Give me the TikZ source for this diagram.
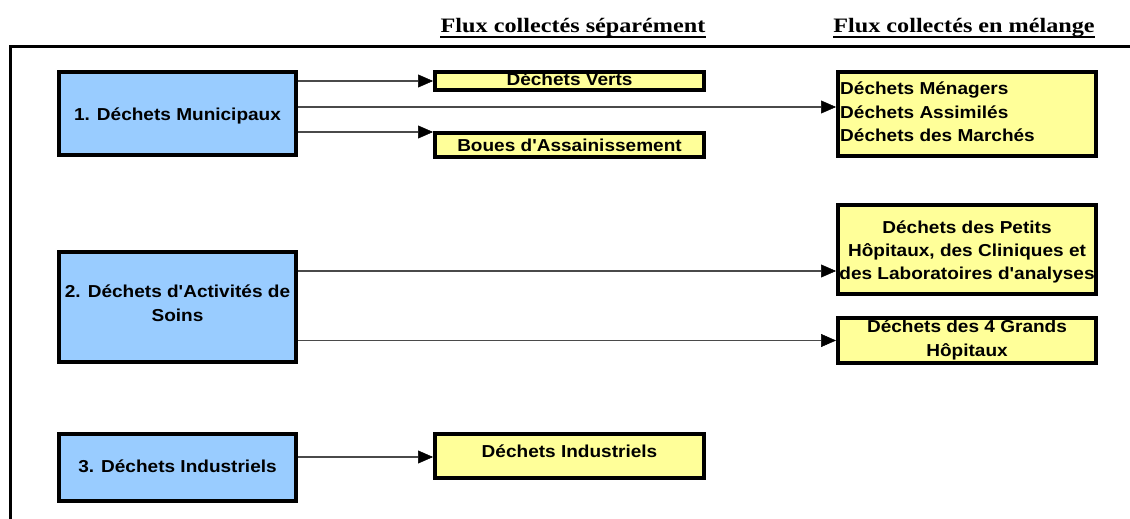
\documentclass[tikz,border=0pt]{standalone}
\usepackage{fontspec}
\usetikzlibrary{arrows.meta}
\newfontfamily\boxfont{Liberation Sans}[FakeStretch=1.1]
\newfontfamily\headfont{Liberation Serif}[FakeStretch=1.18]
\definecolor{boxblue}{HTML}{99CCFF}
\definecolor{boxyellow}{HTML}{FFFF99}
\definecolor{linegray}{HTML}{4A4A4A}
\begin{document}
\begin{tikzpicture}[x=1pt,y=-1pt,
  frameline/.style={line width=3pt,black},
  bluebox/.style={draw=black,line width=4pt,fill=boxblue,inner sep=0pt},
  yellowbox/.style={draw=black,line width=4pt,fill=boxyellow,inner sep=0pt},
  txt/.style={font=\boxfont\bfseries\fontsize{17.3}{23}\selectfont,inner sep=0pt,anchor=base},
  txtl/.style={txt,anchor=base west},
  head/.style={font=\headfont\bfseries\fontsize{20.5}{24}\selectfont,inner sep=0pt,anchor=base},
  arr/.style={line width=1.7pt,draw=linegray,-{Triangle[length=15pt,width=13pt,black,fill=black,line width=0.5pt]}}
]
\useasboundingbox (0,0) rectangle (1130,519);
\fill[white] (0,0) rectangle (1130,519);

% frame
\draw[frameline] (1132,47) -- (10,47) -- (10,521);

% headers
\node[head] (h1) at (573,33) {Flux collectés séparément};
\node[head] (h2) at (964,33) {Flux collectés en mélange};
\draw[line width=1.6pt] ([yshift=-4pt]h1.base west) -- ([yshift=-4pt]h1.base east);
\draw[line width=1.6pt] ([yshift=-4pt]h2.base west) -- ([yshift=-4pt]h2.base east);

% source boxes
\node[bluebox,minimum width=237pt,minimum height=83pt] (b1) at (177.5,113.5) {};
\node[bluebox,minimum width=237pt,minimum height=110pt] (b2) at (177.5,307) {};
\node[bluebox,minimum width=237pt,minimum height=67pt] (b3) at (177.5,467.5) {};

% target boxes
\node[yellowbox,minimum width=269pt,minimum height=18pt] (v) at (569.5,81) {};
\node[yellowbox,minimum width=269pt,minimum height=24pt] (bo) at (569.5,145) {};
\node[yellowbox,minimum width=269pt,minimum height=44pt] (ind) at (569.5,456) {};
\node[yellowbox,minimum width=258pt,minimum height=84pt] (m) at (967,114) {};
\node[yellowbox,minimum width=258pt,minimum height=89pt] (p) at (967,249.5) {};
\node[yellowbox,minimum width=258pt,minimum height=45pt] (g) at (967,340.5) {};

% texts
\node[txt] (b1t) at (177.5,120) {1. Déchets Municipaux};
\node[txt] (b2t1) at (177.5,297.3) {2. Déchets d'Activités de};
\node[txt] (b2t2) at (177.5,321.5) {Soins};
\node[txt] (b3t) at (177.5,472.7) {3. Déchets Industriels};
\node[txt] (vt) at (569.5,85) {Déchets Verts};
\node[txt] (bot) at (569.5,151) {Boues d'Assainissement};
\node[txt] (indt) at (569.5,457.3) {Déchets Industriels};
\node[txtl] (mt1) at (840,95) {Déchets Ménagers};
\node[txtl] (mt2) at (840,118.3) {Déchets Assimilés};
\node[txtl] (mt3) at (840,141.7) {Déchets des Marchés};
\node[txt] (pt1) at (967,233.3) {Déchets des Petits};
\node[txt] (pt2) at (967,256.5) {Hôpitaux, des Cliniques et};
\node[txt] (pt3) at (967,279.5) {des Laboratoires d'analyses};
\node[txt] (gt1) at (967,332.7) {Déchets des 4 Grands};
\node[txt] (gt2) at (967,356.3) {Hôpitaux};

% arrow targets
\coordinate (vIn) at (v.west);
\coordinate (mIn) at ([yshift=7pt]m.west);
\coordinate (boIn) at ([yshift=13pt]bo.west);
\coordinate (pIn) at ([yshift=-21.5pt]p.west);
\coordinate (gIn) at (g.west);
\coordinate (indIn) at ([yshift=-1pt]ind.west);

% connectors
\draw[arr] (b1.east |- vIn) -- (vIn);
\draw[arr] (b1.east |- mIn) -- (mIn);
\draw[arr] (b1.east |- boIn) -- (boIn);
\draw[arr] (b2.east |- pIn) -- (pIn);
\draw[arr] (b2.east |- gIn) -- (gIn);
\draw[arr] (b3.east |- indIn) -- (indIn);
\end{tikzpicture}
\end{document}
